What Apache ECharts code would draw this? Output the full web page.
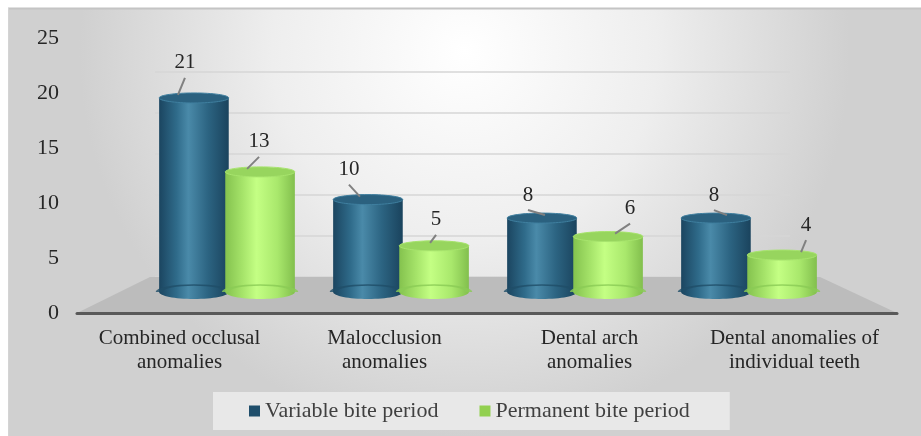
<!DOCTYPE html>
<html>
<head>
<meta charset="utf-8">
<script src="https://cdn.jsdelivr.net/npm/echarts@6/dist/echarts.min.js"></script>
<style>html,body{margin:0;padding:0;background:#fff}#c{width:921px;height:436px}</style>
</head>
<body>
<div id="c"></div>
<script>
// ---- data ----
var categories = ['Combined occlusal\nanomalies', 'Malocclusion\nanomalies', 'Dental arch\nanomalies', 'Dental anomalies of\nindividual teeth'];
var seriesNames = ['Variable bite period', 'Permanent bite period'];
var variableBite = [21, 10, 8, 8];
var permanentBite = [13, 5, 6, 4];
var yTicks = [0, 5, 10, 15, 20, 25];

// ---- styling (label placement per point, not data) ----
var labelDX = [[-9, -19, -14, -2], [-1, 2, 22, 24]];
var labelDY = [[-35, -30, -23, -23], [-30, -26, -28, -30]];
var leaderDX = [[-7, 11, 17, 13], [-12, -6, -15, -5]];

var FONT = '"Liberation Serif", "Times New Roman", serif';
var palettes = [
  {body: [['#1b4560', 0], ['#2f6b8a', 0.25], ['#4a8aa9', 0.42], ['#2c6482', 0.7], ['#1a435d', 1]], top: '#2b617f', topStroke: '#3f7f9f', bottom: '#1f4d68', legend: '#1f4e6b'},
  {body: [['#84c24e', 0], ['#a6e46a', 0.25], ['#c4ff84', 0.45], ['#a9e86c', 0.75], ['#82bf4d', 1]], top: '#97d55e', topStroke: '#a7e46d', bottom: '#8acb55', legend: '#92d050'}
];

function makeRender(si) {
  var pal = palettes[si];
  return function (params, api) {
    var i = api.value(0), v = api.value(1);
    var band = api.size([1, 0])[0];
    var base = api.coord([i, 0]);
    var top = api.coord([i, v]);
    var cx = base[0] + (si === 0 ? -1 : 1) * band * 0.19;
    var rx = band * 0.2;
    var ryT = 5, ryB = 7;
    var yb = base[1], yt = top[1];
    var grad = {type: 'linear', x: 0, y: 0, x2: 1, y2: 0, colorStops: pal.body.map(function (c) { return {offset: c[1], color: c[0]}; })};
    var lx = cx + labelDX[si][i], ly = yt + labelDY[si][i];
    return {
      type: 'group',
      children: [
        {type: 'ellipse', shape: {cx: cx, cy: yb, rx: rx, ry: ryB}, style: {fill: grad}},
        {type: 'rect', shape: {x: cx - rx, y: yt, width: rx * 2, height: yb - yt}, style: {fill: grad}},
        {type: 'arc', shape: {cx: 0, cy: 0, r: 1, startAngle: Math.PI, endAngle: 2 * Math.PI}, x: cx, y: yb, scaleX: rx, scaleY: ryB, style: {stroke: pal.bottom, fill: null, lineWidth: 0.2, opacity: 0.8}},
        {type: 'ellipse', shape: {cx: cx, cy: yt, rx: rx, ry: ryT}, style: {fill: pal.top, stroke: pal.topStroke, lineWidth: 1}},
        {type: 'line', shape: {x1: lx, y1: ly + 15, x2: lx + leaderDX[si][i], y2: yt - 3}, style: {stroke: '#808080', lineWidth: 2}},
        {type: 'text', x: lx, y: ly, style: {text: String(v), fill: '#262626', font: '21px ' + FONT, align: 'center', verticalAlign: 'middle'}}
      ]
    };
  };
}

var chart = echarts.init(document.getElementById('c'), null, {renderer: 'canvas'});

var option = {
  animation: false,
  graphic: [
    {type: 'rect', z: -100, shape: {x: 8, y: 8, width: 913, height: 428},
      style: {fill: {type: 'radial', x: 0.5, y: 0.1, r: 0.9, colorStops: [{offset: 0, color: '#ffffff'}, {offset: 0.5, color: '#eeeeee'}, {offset: 1, color: '#d0d0d0'}]}}},
    {type: 'line', z: -90, shape: {x1: 8, y1: 8.5, x2: 921, y2: 8.5}, style: {stroke: '#c4c4c4', lineWidth: 2}},
    {type: 'line', z: -90, shape: {x1: 8.5, y1: 8, x2: 8.5, y2: 436}, style: {stroke: '#d4d4d4', lineWidth: 1}},
    {type: 'polygon', z: 1, shape: {points: [[77, 313], [897, 313], [820, 277], [150, 277]]}, style: {fill: '#bcbcbc'}}
  ],
  legend: {
    data: seriesNames,
    left: 213, top: 392,
    padding: [8, 40, 8, 36],
    backgroundColor: '#e8e8e8',
    itemWidth: 11, itemHeight: 11, itemGap: 41,
    icon: 'rect',
    textStyle: {fontFamily: FONT, fontSize: 22, color: '#404040'}
  },
  grid: [
    {left: 77, right: 24, top: 38, bottom: 123},
    {left: 155, right: 131, top: 72, bottom: 159},
    {left: 140, right: 85, top: 61, bottom: 144}
  ],
  xAxis: [
    {gridIndex: 0, type: 'category', data: categories, z: 3,
      axisLine: {lineStyle: {color: '#595959', width: 3}}, axisTick: {show: false},
      axisLabel: {fontFamily: FONT, fontSize: 21, color: '#262626', lineHeight: 24, margin: 13, interval: 0}},
    {gridIndex: 1, type: 'category', data: categories, show: false},
    {gridIndex: 2, type: 'category', data: categories, show: false}
  ],
  yAxis: [
    {gridIndex: 0, type: 'value', min: yTicks[0], max: yTicks[yTicks.length - 1], interval: 5,
      axisLine: {show: false}, axisTick: {show: false}, splitLine: {show: false},
      axisLabel: {fontFamily: FONT, fontSize: 22, color: '#262626', margin: 18}},
    {gridIndex: 1, type: 'value', min: 0, max: 25, interval: 5,
      axisLine: {show: false}, axisTick: {show: false}, axisLabel: {show: false},
      splitLine: {lineStyle: {color: '#d6d6d6', width: 1.5}}},
    {gridIndex: 2, type: 'value', min: 0, max: 25, show: false, splitLine: {show: false}}
  ],
  series: [
    {name: seriesNames[0], type: 'custom', xAxisIndex: 2, yAxisIndex: 2, clip: false, z: 5,
      itemStyle: {color: palettes[0].legend},
      renderItem: makeRender(0),
      data: variableBite.map(function (v, i) { return [i, v]; })},
    {name: seriesNames[1], type: 'custom', xAxisIndex: 2, yAxisIndex: 2, clip: false, z: 5,
      itemStyle: {color: palettes[1].legend},
      renderItem: makeRender(1),
      data: permanentBite.map(function (v, i) { return [i, v]; })}
  ]
};
chart.setOption(option);
</script>
</body>
</html>
